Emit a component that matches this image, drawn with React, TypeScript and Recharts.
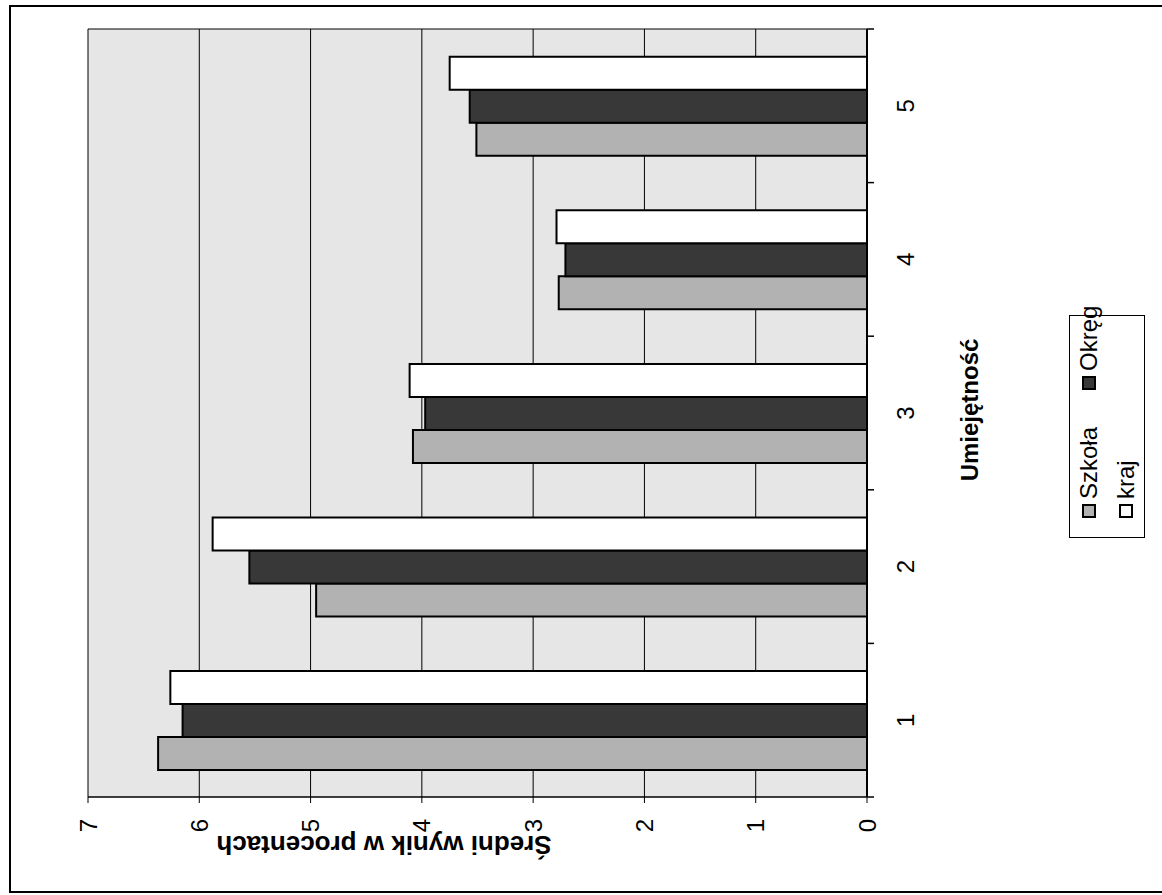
import React from 'react';
import { BarChart, Bar, XAxis, YAxis, CartesianGrid, Legend } from 'recharts';

const categories = ['1', '2', '3', '4', '5'];
const szkola = [6.37, 4.95, 4.08, 2.77, 3.51];
const okreg = [6.15, 5.55, 3.97, 2.71, 3.57];
const kraj = [6.26, 5.88, 4.11, 2.79, 3.75];
const seriesNames = ['Szkoła', 'Okręg', 'kraj'];
const valueTicks = [0, 1, 2, 3, 4, 5, 6, 7];

const data = categories.map((c, i) => ({
  name: c,
  szkola: szkola[i],
  okreg: okreg[i],
  kraj: kraj[i],
}));

// the scan is turned a quarter to the left, so the chart is drawn upright
// in a W x H box and then rotated
const W = 895;
const H = 1162;
const FONT = '"Liberation Sans", Arial, sans-serif';
const CAT_MARGIN = 30;
const CAT_TICK = 7;

// excel puts the category ticks between the groups, not under them
const CategoryTick = ({ x, y, payload, index, visibleTicksCount }: any) => {
  const axisY = y - CAT_MARGIN;
  const half = payload.offset || 0;
  const last = index === visibleTicksCount - 1;
  return (
    <g>
      <line x1={x - half} x2={x - half} y1={axisY} y2={axisY + CAT_TICK} stroke="#000" strokeWidth={1.5} />
      {last && <line x1={x + half} x2={x + half} y1={axisY} y2={axisY + CAT_TICK} stroke="#000" strokeWidth={1.5} />}
      <text x={x} y={y} dy="0.71em" textAnchor="middle" fill="#000" fontSize={24} fontFamily={FONT}>
        {payload.value}
      </text>
    </g>
  );
};

const LegendBox = ({ payload }: any) => {
  // recharts sorts legend items by name, put them back in series order
  const items = [...(payload || [])].sort(
    (a: any, b: any) => seriesNames.indexOf(a.value) - seriesNames.indexOf(b.value)
  );
  return (
    <div
      style={{
        width: 223,
        height: 76,
        boxSizing: 'border-box',
        border: '1px solid #000',
        background: '#fff',
        display: 'grid',
        gridTemplateColumns: '128px 1fr',
        alignItems: 'center',
        paddingLeft: 19,
        fontSize: 24,
        fontFamily: FONT,
        color: '#000',
      }}
    >
      {items.map((p: any) => (
        <div key={p.value} style={{ display: 'flex', alignItems: 'center', height: 37 }}>
          <span
            style={{
              width: 10,
              height: 10,
              border: '2px solid #000',
              background: p.color,
              marginRight: 5,
              display: 'inline-block',
            }}
          />
          {p.value}
        </div>
      ))}
    </div>
  );
};

export default function App() {
  return (
    <div style={{ position: 'absolute', left: 0, top: 0, width: 1162, height: 895, overflow: 'hidden', background: '#fff' }}>
      <div
        style={{
          position: 'absolute',
          left: 9,
          top: 5,
          width: 1180,
          height: 888,
          boxSizing: 'border-box',
          border: '2px solid #000',
        }}
      />
      <div
        style={{
          position: 'absolute',
          left: 0,
          top: 0,
          width: W,
          height: H,
          transformOrigin: '0 0',
          transform: `translateY(${W}px) rotate(-90deg)`,
          fontFamily: FONT,
        }}
      >
        <BarChart
          width={W}
          height={H}
          data={data}
          margin={{ top: 88, right: 29, bottom: 294, left: 38 }}
          barCategoryGap="17.5%"
          barGap={0}
          style={{ fontFamily: FONT }}
        >
          <CartesianGrid
            stroke="#000"
            fill="#e6e6e6"
            fillOpacity={1}
            verticalCoordinatesGenerator={({ offset }: any) => [offset.left + offset.width]}
          />
          <XAxis
            dataKey="name"
            height={1}
            tickLine={false}
            tickSize={0}
            tickMargin={CAT_MARGIN}
            axisLine={{ stroke: '#000', strokeWidth: 2 }}
            tick={<CategoryTick />}
          />
          <YAxis
            domain={[0, 7]}
            ticks={valueTicks}
            width={60}
            tickSize={6}
            tickMargin={16}
            axisLine={{ stroke: '#000', strokeWidth: 1.5 }}
            tickLine={{ stroke: '#000' }}
            tick={{ fill: '#000', fontSize: 24, fontFamily: FONT }}
          />
          <Legend
            verticalAlign="middle"
            align="center"
            layout="horizontal"
            content={<LegendBox />}
            wrapperStyle={{ left: 357, top: 1069, width: 223, height: 76 }}
          />
          <Bar dataKey="szkola" name="Szkoła" fill="#b2b2b2" stroke="#000" strokeWidth={2} isAnimationActive={false} />
          <Bar dataKey="okreg" name="Okręg" fill="#383838" stroke="#000" strokeWidth={2} isAnimationActive={false} />
          <Bar dataKey="kraj" name="kraj" fill="#ffffff" stroke="#000" strokeWidth={2} isAnimationActive={false} />
        </BarChart>
        <div
          style={{
            position: 'absolute',
            left: 51,
            top: 384,
            transform: 'translate(-50%, -50%) rotate(-90deg)',
            whiteSpace: 'nowrap',
            fontSize: 26,
            fontWeight: 'bold',
            color: '#000',
          }}
        >
          Średni wynik w procentach
        </div>
        <div
          style={{
            position: 'absolute',
            left: 485,
            top: 970,
            transform: 'translate(-50%, -50%)',
            whiteSpace: 'nowrap',
            fontSize: 24,
            fontWeight: 'bold',
            color: '#000',
          }}
        >
          Umiejętność
        </div>
      </div>
    </div>
  );
}
